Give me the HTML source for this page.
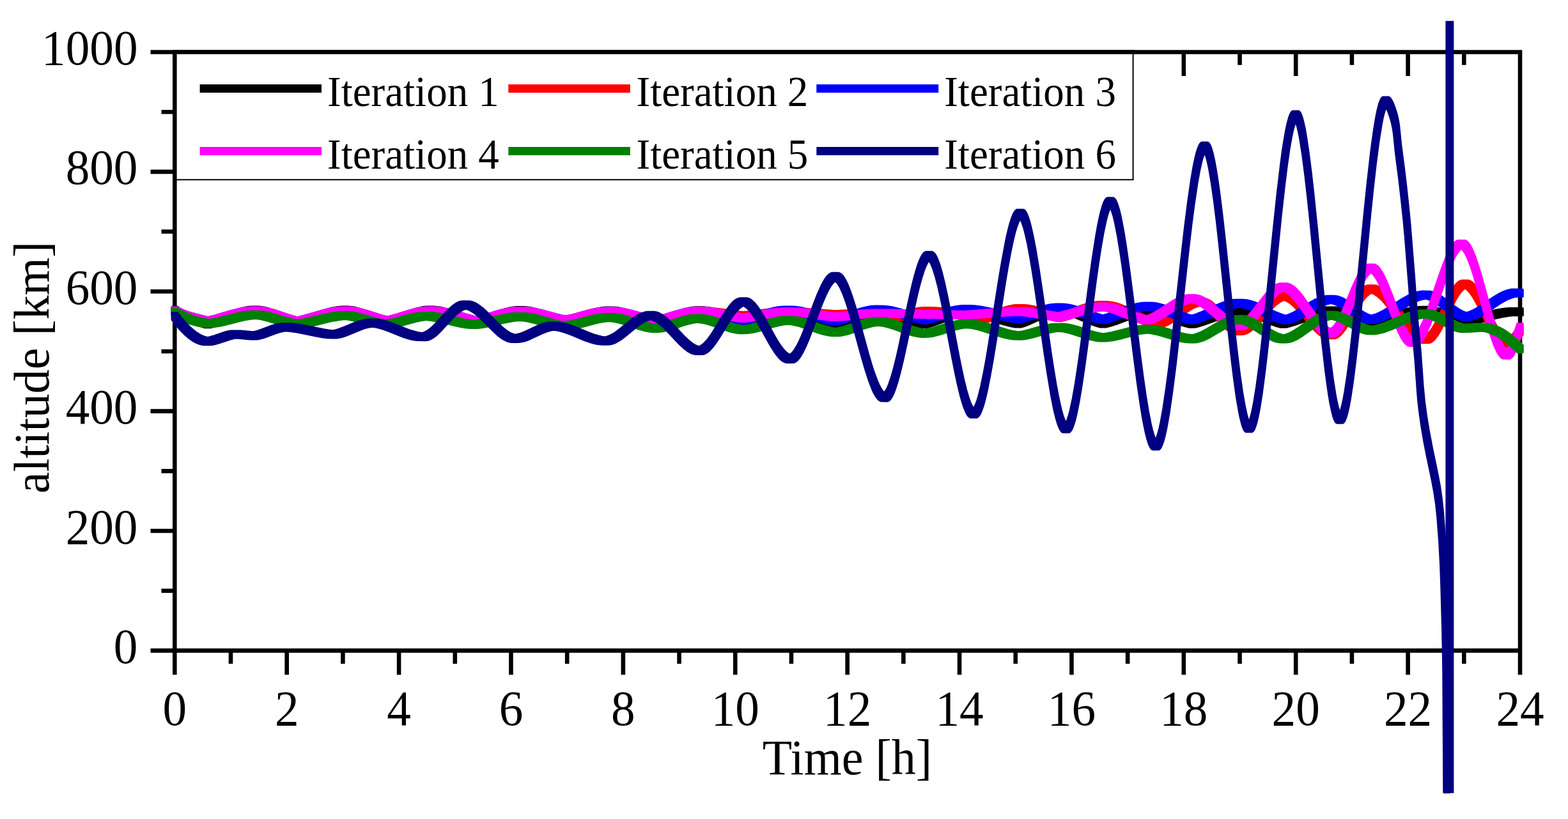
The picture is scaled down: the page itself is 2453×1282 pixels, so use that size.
<!DOCTYPE html>
<html><head><meta charset="utf-8"><title>altitude vs time</title>
<style>html,body{margin:0;padding:0;background:#fff;}svg{display:block;}</style>
</head><body>
<svg width="2453" height="1282" viewBox="0 0 2453 1282"><rect width="2453" height="1282" fill="#fff"/><path d="M273.30,78.20 V1021.70 M2378.00,78.20 V1021.70 M270.00,1018.40 H2381.30 M270.00,81.50 H2381.30 M235.50,1018.40 H273.30 M252.50,924.71 H273.30 M235.50,831.02 H273.30 M252.50,737.33 H273.30 M235.50,643.64 H273.30 M252.50,549.95 H273.30 M235.50,456.26 H273.30 M252.50,362.57 H273.30 M235.50,268.88 H273.30 M252.50,175.19 H273.30 M235.50,81.50 H273.30 M273.30,1018.40 V1056.30 M361.00,1018.40 V1039.00 M448.69,1018.40 V1056.30 M536.39,1018.40 V1039.00 M624.08,1018.40 V1056.30 M711.78,1018.40 V1039.00 M799.47,1018.40 V1056.30 M887.17,1018.40 V1039.00 M974.87,1018.40 V1056.30 M1062.56,1018.40 V1039.00 M1150.26,1018.40 V1056.30 M1237.95,1018.40 V1039.00 M1325.65,1018.40 V1056.30 M1413.35,1018.40 V1039.00 M1501.04,1018.40 V1056.30 M1588.74,1018.40 V1039.00 M1676.43,1018.40 V1056.30 M1764.13,1018.40 V1039.00 M1851.82,1018.40 V1056.30 M1939.52,1018.40 V1039.00 M2027.22,1018.40 V1056.30 M2114.91,1018.40 V1039.00 M2202.61,1018.40 V1056.30 M2290.30,1018.40 V1039.00 M2378.00,1018.40 V1056.30 M273.30,81.50 V119.00 M361.00,81.50 V101.70 M448.69,81.50 V119.00 M536.39,81.50 V101.70 M624.08,81.50 V119.00 M711.78,81.50 V101.70 M799.47,81.50 V119.00 M887.17,81.50 V101.70 M974.87,81.50 V119.00 M1062.56,81.50 V101.70 M1150.26,81.50 V119.00 M1237.95,81.50 V101.70 M1325.65,81.50 V119.00 M1413.35,81.50 V101.70 M1501.04,81.50 V119.00 M1588.74,81.50 V101.70 M1676.43,81.50 V119.00 M1764.13,81.50 V101.70 M1851.82,81.50 V119.00 M1939.52,81.50 V101.70 M2027.22,81.50 V119.00 M2114.91,81.50 V101.70 M2202.61,81.50 V119.00 M2290.30,81.50 V101.70 M2378.00,81.50 V119.00" fill="none" stroke="#000" stroke-width="6.6" stroke-linecap="butt"/><path d="M269.1,480.3 L277.6,480.3 L281.6,483.0 L286.6,485.9 L291.6,488.6 L297.3,491.2 L308.3,495.3 L325.3,500.5 L330.6,499.1 L336.6,497.1 L362.3,487.3 L373.3,483.6 L379.3,482.1 L384.3,481.1 L390.1,480.3 L395.1,480.1 L404.8,480.1 L408.8,480.4 L413.8,481.2 L419.8,482.7 L429.6,486.1 L453.6,496.4 L459.6,498.7 L464.6,500.4 L469.1,499.2 L476.1,497.0 L502.1,487.3 L513.0,483.8 L519.0,482.2 L524.8,481.1 L530.0,480.4 L535.0,480.1 L545.3,480.1 L549.3,480.4 L554.5,481.1 L560.5,482.6 L565.3,484.1 L570.5,486.0 L595.3,496.5 L601.3,498.8 L606.0,500.3 L609.8,499.2 L615.8,497.1 L639.3,487.3 L649.3,483.6 L654.3,482.2 L659.3,481.1 L664.3,480.3 L669.0,480.1 L678.8,480.1 L683.5,480.4 L689.5,481.3 L695.5,482.7 L706.3,486.0 L733.0,496.4 L739.8,498.7 L745.5,500.4 L750.3,499.0 L756.3,496.9 L779.0,487.7 L789.0,484.1 L794.8,482.5 L799.8,481.4 L804.8,480.7 L808.8,480.5 L819.3,480.5 L823.3,480.7 L829.3,481.5 L836.0,483.0 L841.3,484.5 L847.0,486.3 L873.3,496.2 L880.3,498.6 L885.0,499.9 L890.5,498.3 L896.5,496.2 L922.3,486.4 L928.3,484.4 L934.3,482.9 L940.3,481.7 L946.3,481.1 L958.5,481.0 L963.5,481.3 L967.5,481.8 L972.5,482.7 L982.3,485.3 L991.3,488.4 L1014.0,496.9 L1020.8,499.1 L1025.5,500.4 L1036.0,497.0 L1059.0,487.8 L1068.8,484.4 L1074.8,482.7 L1079.8,481.7 L1084.8,481.0 L1088.8,480.8 L1099.3,480.8 L1103.3,481.0 L1109.3,481.7 L1115.3,482.8 L1126.0,485.6 L1151.3,493.7 L1158.0,495.6 L1162.3,496.6 L1173.8,493.7 L1200.5,485.9 L1206.8,484.3 L1212.8,483.1 L1219.8,482.0 L1225.8,481.6 L1238.3,481.5 L1243.3,481.8 L1247.3,482.3 L1252.3,483.1 L1262.3,485.6 L1272.0,488.7 L1294.3,496.6 L1301.3,498.7 L1306.0,500.0 L1316.8,496.7 L1342.5,487.6 L1348.5,485.8 L1353.8,484.5 L1359.8,483.3 L1365.8,482.6 L1369.8,482.5 L1382.0,482.6 L1386.3,483.0 L1391.3,483.8 L1396.3,484.8 L1402.0,486.3 L1412.0,489.4 L1435.0,497.4 L1445.8,500.6 L1455.8,497.4 L1477.8,489.0 L1487.8,485.7 L1493.5,484.2 L1498.5,483.3 L1503.5,482.7 L1507.8,482.5 L1517.3,482.5 L1523.0,482.8 L1529.3,483.5 L1536.3,484.7 L1543.0,486.3 L1550.3,488.2 L1581.0,497.5 L1588.0,499.2 L1592.3,500.1 L1596.8,498.6 L1602.5,496.3 L1624.3,486.4 L1633.3,482.8 L1638.3,481.2 L1642.5,480.1 L1647.3,479.3 L1651.3,479.0 L1661.8,479.0 L1665.8,479.3 L1671.8,480.2 L1677.8,481.6 L1683.8,483.5 L1689.8,485.8 L1715.8,496.7 L1721.5,498.8 L1725.8,500.0 L1731.0,498.6 L1737.0,496.6 L1760.0,488.0 L1770.0,484.7 L1775.8,483.1 L1780.8,482.1 L1785.8,481.4 L1790.5,481.1 L1801.0,481.1 L1805.0,481.3 L1811.0,482.1 L1817.0,483.4 L1822.0,484.8 L1828.0,486.8 L1854.0,496.8 L1860.0,498.8 L1865.0,500.2 L1876.3,496.9 L1900.3,488.2 L1911.0,484.8 L1917.0,483.2 L1922.8,482.1 L1927.8,481.4 L1932.8,481.0 L1944.0,481.0 L1948.3,481.2 L1954.3,482.1 L1960.3,483.4 L1965.3,484.8 L1971.3,486.8 L1996.3,496.4 L2002.3,498.5 L2008.0,500.3 L2019.5,496.8 L2043.5,488.3 L2054.3,484.8 L2060.3,483.3 L2065.3,482.2 L2070.3,481.5 L2075.1,481.1 L2086.8,481.0 L2090.6,481.1 L2095.6,481.7 L2101.6,482.9 L2111.6,485.8 L2135.1,494.4 L2145.3,497.6 L2150.6,496.5 L2158.6,494.6 L2186.3,486.8 L2197.3,484.0 L2209.3,481.7 L2215.3,480.9 L2220.3,480.5 L2225.3,480.3 L2236.8,480.3 L2241.8,480.8 L2247.6,481.9 L2252.6,483.2 L2258.6,485.2 L2281.3,494.1 L2290.8,497.2 L2303.8,494.4 L2333.8,486.8 L2340.8,485.3 L2347.8,484.0 L2354.8,483.1 L2361.8,482.6 L2375.3,482.5 L2382.3,482.7 L2382.3,493.7 L2369.3,493.6 L2363.3,494.1 L2356.3,495.0 L2349.3,496.3 L2341.3,498.0 L2313.3,505.2 L2302.1,507.7 L2294.3,509.1 L2285.8,509.1 L2280.8,507.8 L2274.8,505.8 L2253.1,497.3 L2245.1,494.6 L2240.3,493.2 L2236.1,492.3 L2231.3,491.6 L2228.8,491.5 L2223.8,491.9 L2217.8,492.7 L2205.8,495.0 L2194.1,498.0 L2168.1,505.3 L2155.1,508.4 L2149.1,509.5 L2140.6,509.5 L2134.6,508.0 L2128.6,506.1 L2107.1,498.2 L2098.8,495.5 L2090.1,493.3 L2086.1,492.6 L2082.1,492.2 L2077.6,492.6 L2072.8,493.4 L2067.8,494.5 L2061.8,496.1 L2051.8,499.3 L2028.0,507.8 L2017.0,511.1 L2012.3,512.3 L2003.5,512.3 L1997.5,510.7 L1990.5,508.4 L1966.5,499.2 L1956.8,495.8 L1947.5,493.4 L1942.8,492.6 L1938.8,492.2 L1934.3,492.6 L1929.3,493.4 L1924.3,494.5 L1918.5,496.1 L1908.5,499.3 L1885.0,507.8 L1873.8,511.2 L1869.0,512.3 L1860.5,512.3 L1854.5,510.7 L1847.5,508.5 L1823.5,499.3 L1813.8,495.9 L1804.5,493.5 L1799.8,492.7 L1795.8,492.3 L1791.3,492.8 L1787.3,493.5 L1782.3,494.6 L1777.3,496.0 L1768.3,499.1 L1745.8,507.5 L1734.8,510.9 L1729.8,512.1 L1721.3,512.1 L1715.0,510.4 L1707.3,507.7 L1683.3,497.6 L1674.3,494.2 L1665.3,491.6 L1661.3,490.8 L1656.8,490.2 L1653.0,490.7 L1649.0,491.6 L1640.8,494.1 L1632.0,497.7 L1610.0,507.7 L1603.3,510.3 L1597.3,512.1 L1588.5,512.1 L1581.8,510.8 L1569.8,507.7 L1544.8,500.1 L1533.8,497.1 L1522.8,494.8 L1517.8,494.1 L1512.5,493.6 L1508.3,494.1 L1504.3,494.7 L1499.3,495.9 L1494.3,497.3 L1485.3,500.4 L1464.3,508.4 L1458.3,510.4 L1453.3,511.9 L1450.3,512.6 L1441.8,512.6 L1435.5,511.1 L1427.8,508.8 L1402.8,500.2 L1392.8,497.1 L1382.8,494.8 L1374.3,493.7 L1370.3,494.0 L1366.0,494.7 L1361.3,495.7 L1356.0,497.1 L1346.3,500.2 L1324.3,508.1 L1314.0,511.1 L1310.3,512.0 L1301.8,512.0 L1295.5,510.5 L1287.8,508.2 L1262.8,499.5 L1252.8,496.3 L1243.5,494.1 L1234.8,492.8 L1232.8,492.6 L1226.3,493.3 L1221.3,494.1 L1215.3,495.3 L1205.0,498.0 L1180.3,505.3 L1169.3,507.9 L1166.3,508.5 L1157.8,508.5 L1151.8,507.2 L1144.8,505.3 L1120.8,497.6 L1111.8,495.0 L1102.8,493.0 L1094.3,492.0 L1090.3,492.4 L1085.3,493.3 L1080.5,494.5 L1075.5,496.0 L1066.5,499.2 L1044.8,507.9 L1038.8,510.0 L1033.8,511.5 L1029.8,512.5 L1021.3,512.5 L1014.5,510.8 L1007.5,508.6 L982.5,499.3 L972.8,496.0 L967.8,494.6 L962.8,493.5 L958.0,492.6 L953.5,492.2 L949.5,492.6 L944.8,493.4 L939.8,494.6 L934.8,496.1 L925.8,499.2 L904.0,507.6 L893.3,511.0 L889.3,512.0 L880.8,512.0 L874.5,510.4 L866.8,507.9 L842.5,498.8 L832.8,495.5 L827.8,494.0 L822.8,492.9 L817.8,492.1 L814.0,491.7 L809.5,492.2 L805.3,493.0 L800.5,494.2 L795.5,495.8 L786.5,499.1 L765.5,507.6 L754.8,511.2 L749.8,512.5 L741.3,512.5 L734.5,510.7 L727.5,508.5 L701.8,498.5 L692.0,495.1 L687.0,493.7 L682.0,492.5 L678.0,491.8 L673.5,491.3 L669.5,491.8 L664.8,492.7 L655.8,495.3 L646.8,498.7 L625.3,507.7 L615.3,511.2 L610.3,512.5 L601.8,512.5 L595.8,510.8 L588.8,508.3 L565.8,498.5 L556.8,495.1 L552.0,493.6 L547.8,492.5 L543.8,491.7 L539.8,491.3 L535.3,491.8 L530.3,492.6 L525.3,493.7 L519.5,495.4 L509.6,498.7 L485.6,507.6 L474.6,511.1 L468.6,512.5 L460.1,512.5 L454.1,510.8 L447.1,508.2 L425.1,498.7 L416.1,495.2 L411.3,493.7 L407.3,492.6 L403.3,491.8 L399.3,491.3 L394.8,491.8 L389.8,492.6 L384.8,493.8 L379.8,495.2 L369.8,498.7 L346.1,507.7 L340.1,509.8 L334.3,511.5 L329.3,512.7 L320.6,512.7 L301.8,507.0 L295.8,504.9 L289.8,502.6 L284.1,500.0 L279.1,497.5 L274.1,494.6 L269.1,491.3 Z" fill="#000000" stroke="#000000" stroke-width="3.0" stroke-linejoin="round"/><path d="M269.1,481.3 L277.6,481.3 L286.6,485.6 L296.6,489.2 L307.3,492.3 L325.3,496.6 L335.8,494.1 L361.3,486.7 L372.6,483.9 L378.3,482.7 L384.3,481.8 L390.3,481.3 L395.3,481.1 L404.8,481.1 L408.8,481.3 L413.8,481.9 L419.8,483.1 L430.6,486.0 L453.6,493.7 L464.6,496.9 L470.1,495.7 L477.1,493.9 L505.8,485.7 L518.0,482.9 L525.0,481.8 L531.8,481.2 L544.5,481.1 L549.3,481.3 L557.5,482.4 L566.5,484.4 L575.3,486.9 L596.3,493.6 L606.0,496.3 L615.8,493.7 L638.5,486.6 L648.5,483.8 L654.3,482.5 L659.3,481.7 L664.3,481.2 L669.0,481.0 L678.8,481.0 L683.5,481.2 L689.5,481.9 L696.3,483.1 L707.3,485.7 L733.8,493.4 L745.5,496.4 L755.3,493.9 L779.0,486.8 L789.0,484.2 L794.8,483.0 L799.8,482.2 L804.8,481.7 L809.8,481.5 L819.3,481.5 L824.0,481.7 L830.3,482.3 L836.3,483.3 L847.3,485.7 L873.3,492.6 L885.0,495.2 L896.5,492.6 L921.5,485.8 L928.3,484.2 L934.0,483.1 L940.3,482.3 L946.3,481.9 L958.5,481.8 L963.5,482.0 L972.5,483.1 L982.3,485.0 L991.3,487.3 L1014.0,493.7 L1025.5,496.4 L1035.3,493.9 L1058.8,486.9 L1068.8,484.2 L1079.0,482.3 L1083.8,481.8 L1088.8,481.5 L1103.3,481.6 L1115.3,482.4 L1126.3,483.7 L1151.3,487.3 L1162.3,488.6 L1173.8,487.5 L1199.8,484.4 L1210.8,483.3 L1223.5,482.6 L1238.0,482.5 L1248.3,482.7 L1260.0,483.3 L1306.5,486.8 L1353.8,484.3 L1365.8,484.0 L1380.0,484.0 L1384.3,484.4 L1389.0,485.2 L1406.0,489.2 L1412.5,487.8 L1427.8,483.9 L1436.8,482.2 L1443.8,481.5 L1458.3,481.6 L1470.3,482.2 L1483.3,483.7 L1496.3,485.7 L1525.3,490.6 L1538.5,492.4 L1547.8,489.6 L1569.5,481.8 L1578.5,479.2 L1583.8,478.1 L1588.5,477.6 L1601.3,477.5 L1605.3,477.7 L1610.0,478.2 L1619.0,480.0 L1628.0,482.4 L1648.0,488.4 L1656.3,490.5 L1667.5,487.1 L1693.3,477.7 L1699.3,475.9 L1704.3,474.5 L1710.3,473.3 L1716.3,472.5 L1720.3,472.3 L1730.5,472.3 L1735.8,472.7 L1740.8,473.5 L1746.5,474.8 L1752.5,476.7 L1763.5,481.1 L1785.3,491.2 L1793.5,494.8 L1802.5,498.1 L1811.0,500.3 L1813.8,499.4 L1816.8,498.2 L1823.8,494.4 L1830.8,489.8 L1849.5,476.4 L1854.8,473.1 L1859.8,470.5 L1864.8,468.5 L1869.8,467.3 L1872.8,467.0 L1882.3,467.0 L1885.3,467.3 L1889.3,468.7 L1892.3,470.3 L1896.3,473.1 L1900.3,476.6 L1904.3,480.5 L1919.3,496.9 L1926.3,503.8 L1930.0,506.9 L1933.3,509.2 L1936.3,510.8 L1939.0,511.8 L1942.5,510.5 L1945.8,508.8 L1949.8,505.9 L1953.8,502.5 L1957.8,498.6 L1961.8,494.3 L1975.5,478.6 L1980.8,472.8 L1986.8,467.0 L1991.5,463.2 L1993.8,461.7 L1996.5,460.2 L2000.8,458.6 L2003.8,458.1 L2013.3,458.1 L2015.3,458.2 L2017.3,458.6 L2021.3,460.1 L2025.3,462.5 L2030.0,466.2 L2034.0,470.0 L2039.0,475.3 L2044.0,481.2 L2057.8,498.0 L2065.8,506.9 L2069.8,510.7 L2073.8,513.9 L2077.8,516.4 L2081.8,518.0 L2083.1,517.5 L2085.1,516.4 L2088.1,513.9 L2091.1,510.8 L2095.1,505.8 L2098.1,501.5 L2102.1,495.2 L2114.8,473.5 L2119.6,465.8 L2124.6,458.6 L2128.8,453.5 L2131.6,450.9 L2133.6,449.3 L2135.6,448.1 L2137.6,447.3 L2140.6,446.8 L2149.1,446.8 L2151.1,446.9 L2153.1,447.3 L2155.1,447.9 L2158.1,449.2 L2160.8,450.9 L2163.1,452.4 L2166.1,454.9 L2168.8,457.5 L2174.1,463.0 L2179.8,470.0 L2201.8,499.7 L2206.8,506.1 L2210.8,510.7 L2215.8,515.9 L2220.8,520.2 L2224.8,522.9 L2226.8,523.9 L2229.6,525.0 L2230.3,524.7 L2232.3,523.4 L2234.1,521.9 L2236.1,519.9 L2239.3,515.7 L2243.1,509.8 L2246.1,504.5 L2250.1,496.7 L2261.8,472.1 L2266.8,462.1 L2271.8,453.2 L2275.8,447.3 L2278.6,444.1 L2280.6,442.1 L2282.6,440.6 L2284.6,439.6 L2285.8,439.2 L2287.6,439.0 L2296.1,439.0 L2298.1,439.3 L2300.1,440.0 L2302.1,441.2 L2303.8,442.6 L2305.8,444.5 L2307.8,446.8 L2311.8,452.4 L2315.8,459.0 L2319.8,466.5 L2335.6,499.1 L2342.3,512.1 L2345.6,517.6 L2348.6,522.1 L2351.6,526.0 L2354.6,529.0 L2356.3,530.4 L2357.8,531.3 L2358.8,530.8 L2360.8,529.3 L2363.8,526.3 L2366.6,523.0 L2373.8,512.5 L2382.3,512.5 L2382.3,523.5 L2377.3,530.9 L2373.3,536.2 L2369.3,540.3 L2366.1,542.5 L2364.3,543.2 L2362.3,543.5 L2352.8,543.4 L2349.8,542.5 L2346.8,540.6 L2343.8,537.8 L2340.8,534.2 L2337.8,529.8 L2334.1,523.6 L2327.1,510.1 L2312.3,479.4 L2308.3,471.8 L2304.6,465.3 L2301.3,460.4 L2297.6,455.8 L2294.6,452.9 L2292.6,451.5 L2291.8,451.2 L2289.1,453.1 L2286.1,456.2 L2282.3,461.1 L2279.1,466.3 L2276.1,471.7 L2272.3,479.0 L2256.6,511.7 L2252.6,519.1 L2248.6,525.6 L2244.8,530.6 L2241.6,533.8 L2239.8,535.1 L2237.8,536.2 L2236.6,536.6 L2234.8,536.8 L2225.3,536.8 L2221.3,536.0 L2218.3,534.9 L2215.3,533.3 L2212.3,531.2 L2209.3,528.8 L2203.3,522.8 L2197.3,515.8 L2190.3,506.8 L2173.3,483.6 L2168.3,477.3 L2163.6,471.8 L2158.6,466.8 L2153.6,462.7 L2149.6,460.2 L2147.6,459.3 L2145.3,458.6 L2142.1,460.3 L2139.1,462.8 L2135.3,466.8 L2132.1,470.9 L2129.1,475.3 L2125.3,481.2 L2108.6,509.4 L2104.6,515.4 L2100.6,520.7 L2096.6,524.9 L2093.6,527.4 L2091.6,528.5 L2089.8,529.3 L2088.6,529.6 L2086.6,529.8 L2077.3,529.8 L2074.3,529.3 L2072.1,528.6 L2069.3,527.4 L2064.3,524.1 L2059.3,519.8 L2053.3,513.6 L2047.5,506.9 L2032.5,488.6 L2028.5,484.1 L2024.5,480.0 L2020.5,476.3 L2016.5,473.3 L2012.8,471.1 L2009.0,469.7 L2006.0,470.7 L2002.3,472.7 L1998.3,475.5 L1994.0,479.1 L1986.3,487.0 L1968.3,507.5 L1963.3,512.6 L1959.3,516.1 L1955.3,519.1 L1951.0,521.5 L1947.3,522.9 L1945.3,523.3 L1943.3,523.4 L1934.5,523.4 L1931.8,523.1 L1927.8,521.8 L1923.5,519.4 L1918.8,515.7 L1913.8,511.0 L1896.8,492.5 L1890.5,486.4 L1886.8,483.3 L1883.8,481.3 L1880.5,479.6 L1877.3,478.5 L1874.0,479.3 L1870.3,480.6 L1866.3,482.5 L1862.3,484.7 L1854.3,490.0 L1837.3,502.2 L1829.3,507.1 L1825.3,509.2 L1822.3,510.4 L1819.3,511.4 L1816.3,512.1 L1806.8,512.0 L1800.8,510.9 L1794.0,509.1 L1788.0,507.0 L1781.8,504.4 L1756.8,492.9 L1746.0,488.5 L1740.3,486.5 L1735.0,485.1 L1730.0,484.0 L1725.3,483.5 L1720.8,484.0 L1716.8,484.6 L1711.8,485.8 L1706.8,487.2 L1697.8,490.1 L1673.8,498.9 L1666.8,501.0 L1660.8,502.5 L1652.3,502.5 L1649.3,501.9 L1639.5,499.4 L1620.5,493.7 L1612.5,491.5 L1603.8,489.6 L1596.3,488.7 L1589.3,489.7 L1582.0,491.5 L1574.3,494.0 L1555.0,501.0 L1549.3,502.8 L1544.3,504.1 L1535.5,504.1 L1529.8,503.4 L1515.8,501.4 L1487.8,496.7 L1475.8,494.8 L1462.8,493.3 L1451.3,492.6 L1445.3,493.2 L1439.3,494.3 L1419.3,499.2 L1412.0,500.7 L1410.3,501.0 L1401.8,501.0 L1395.8,499.9 L1379.8,496.1 L1375.8,495.4 L1371.8,495.1 L1354.3,495.7 L1314.3,497.8 L1301.8,498.0 L1287.8,497.1 L1252.8,494.4 L1233.5,493.5 L1224.3,493.9 L1214.3,494.7 L1181.3,498.6 L1170.3,499.7 L1166.3,500.0 L1157.8,500.0 L1144.8,498.6 L1111.8,493.9 L1102.8,493.0 L1094.8,492.6 L1086.3,493.5 L1076.3,495.5 L1066.5,498.1 L1042.8,505.2 L1035.8,507.0 L1029.8,508.2 L1021.3,508.2 L1016.5,507.3 L1005.5,504.7 L982.8,498.3 L973.8,496.0 L964.0,494.1 L955.0,493.0 L952.8,493.0 L946.8,493.5 L941.8,494.3 L935.8,495.4 L926.0,497.8 L903.3,504.0 L892.3,506.5 L889.3,507.0 L880.8,507.0 L874.8,505.9 L867.5,504.3 L842.8,497.7 L832.8,495.3 L822.8,493.5 L814.0,492.6 L805.3,493.6 L795.5,495.6 L786.5,498.1 L764.5,504.7 L753.8,507.4 L749.8,508.2 L741.3,508.2 L734.5,506.8 L727.5,505.1 L702.8,497.8 L692.8,495.2 L682.8,493.2 L673.5,492.1 L664.8,493.2 L655.0,495.3 L646.0,497.9 L625.0,504.5 L614.3,507.4 L610.3,508.2 L601.8,508.2 L595.8,506.9 L589.0,505.0 L566.8,497.9 L557.8,495.3 L548.8,493.3 L544.0,492.6 L540.0,492.2 L535.5,492.6 L530.5,493.2 L519.5,495.4 L509.3,498.0 L484.6,505.2 L472.6,508.0 L468.6,508.8 L460.1,508.8 L454.1,507.4 L448.1,505.7 L425.1,497.9 L416.3,495.3 L407.3,493.2 L399.3,492.2 L394.8,492.6 L389.8,493.2 L379.1,495.4 L368.8,498.0 L345.1,504.9 L333.3,507.7 L329.3,508.5 L320.6,508.5 L299.8,503.5 L289.1,500.5 L278.8,496.9 L274.1,494.8 L269.1,492.3 Z" fill="#ff0000" stroke="#ff0000" stroke-width="3.0" stroke-linejoin="round"/><path d="M269.1,481.3 L277.6,481.3 L286.6,485.6 L296.6,489.2 L307.3,492.3 L325.3,496.6 L335.8,494.1 L361.3,486.7 L372.6,483.9 L378.3,482.7 L384.3,481.8 L390.3,481.3 L395.3,481.1 L404.8,481.1 L408.8,481.3 L413.8,481.9 L419.8,483.1 L430.6,486.0 L453.6,493.7 L464.6,496.9 L470.1,495.7 L477.1,493.9 L505.8,485.7 L518.0,482.9 L525.0,481.8 L531.8,481.2 L544.5,481.1 L549.3,481.3 L557.5,482.4 L566.5,484.4 L575.3,486.9 L596.3,493.6 L606.0,496.3 L615.8,493.7 L638.5,486.6 L648.5,483.8 L654.3,482.5 L659.3,481.7 L664.3,481.2 L669.0,481.0 L678.8,481.0 L683.5,481.2 L689.5,481.9 L696.3,483.1 L707.3,485.7 L733.8,493.4 L745.5,496.4 L755.3,493.9 L779.0,486.8 L789.0,484.2 L794.8,483.0 L799.8,482.2 L804.8,481.7 L809.8,481.5 L819.3,481.5 L824.0,481.7 L830.3,482.3 L836.3,483.3 L847.3,485.7 L873.3,492.6 L885.0,495.2 L896.5,492.6 L921.5,485.8 L928.3,484.2 L934.0,483.1 L940.3,482.3 L946.3,481.9 L958.5,481.8 L963.5,482.0 L972.5,483.1 L982.3,485.0 L991.3,487.3 L1014.0,493.7 L1025.5,496.4 L1036.3,493.6 L1057.0,487.4 L1066.0,484.9 L1075.8,482.8 L1083.8,481.8 L1088.8,481.5 L1101.3,481.6 L1107.3,482.0 L1113.3,482.9 L1125.3,485.5 L1151.0,492.6 L1161.8,495.2 L1166.8,494.1 L1173.5,492.3 L1199.8,484.6 L1210.8,482.0 L1217.5,480.8 L1223.5,480.2 L1227.8,480.0 L1238.3,480.0 L1243.3,480.3 L1248.3,480.8 L1254.3,481.8 L1260.0,483.1 L1270.3,486.0 L1295.3,493.8 L1305.8,496.6 L1316.5,493.4 L1338.3,485.6 L1347.3,482.8 L1357.0,480.4 L1362.0,479.6 L1366.0,479.2 L1370.0,479.1 L1382.5,479.2 L1388.5,479.7 L1395.3,480.8 L1407.3,483.6 L1434.5,491.5 L1446.0,494.3 L1456.0,491.5 L1477.8,484.3 L1487.8,481.3 L1492.8,480.2 L1497.8,479.3 L1502.8,478.7 L1506.8,478.5 L1517.3,478.5 L1523.0,478.7 L1530.0,479.4 L1537.0,480.4 L1549.3,482.9 L1579.3,490.2 L1592.3,492.8 L1601.8,490.0 L1623.5,482.0 L1633.3,478.9 L1638.5,477.6 L1643.3,476.7 L1648.3,476.2 L1652.3,476.0 L1661.8,476.0 L1665.8,476.2 L1671.8,477.0 L1677.8,478.2 L1688.8,481.4 L1713.8,490.3 L1725.3,493.8 L1730.3,492.3 L1737.0,490.0 L1763.0,480.0 L1773.8,476.6 L1779.8,475.2 L1785.8,474.3 L1790.5,474.0 L1800.3,474.0 L1805.0,474.2 L1809.3,474.8 L1814.3,475.9 L1820.0,477.5 L1829.3,480.8 L1853.0,490.4 L1859.0,492.5 L1864.5,494.0 L1870.5,492.2 L1877.3,489.5 L1905.0,476.8 L1911.0,474.3 L1917.0,472.2 L1923.0,470.6 L1929.0,469.6 L1933.8,469.2 L1943.3,469.2 L1947.3,469.4 L1952.3,470.1 L1957.3,471.4 L1962.3,473.0 L1972.3,477.2 L1990.3,486.0 L1997.3,489.2 L2005.0,492.2 L2011.5,494.1 L2017.8,491.9 L2024.8,488.5 L2031.5,484.6 L2051.3,472.4 L2057.3,469.1 L2062.3,466.8 L2068.1,464.7 L2073.3,463.6 L2077.3,463.2 L2086.6,463.2 L2089.8,463.4 L2093.6,464.2 L2097.6,465.6 L2101.6,467.4 L2105.6,469.7 L2109.6,472.2 L2126.1,484.0 L2132.3,488.1 L2136.1,490.2 L2139.3,491.8 L2143.1,493.3 L2145.3,493.9 L2149.6,492.8 L2153.6,491.4 L2158.6,489.2 L2163.6,486.6 L2172.6,481.4 L2193.3,468.1 L2203.3,462.5 L2208.3,460.2 L2212.3,458.7 L2216.3,457.4 L2220.3,456.6 L2225.3,456.1 L2236.8,456.2 L2240.8,456.9 L2245.8,458.7 L2250.8,461.2 L2256.8,465.1 L2261.8,468.8 L2274.8,478.9 L2281.8,483.8 L2287.8,487.2 L2290.8,488.5 L2293.8,489.6 L2297.3,488.6 L2301.1,487.1 L2305.1,485.3 L2309.3,483.1 L2318.1,477.7 L2333.8,467.0 L2340.1,463.0 L2346.8,459.1 L2352.8,456.3 L2358.8,454.2 L2361.8,453.6 L2364.8,453.1 L2376.3,453.0 L2382.3,453.2 L2382.3,464.2 L2373.1,464.2 L2371.1,464.4 L2365.3,465.8 L2359.6,468.0 L2354.3,470.6 L2348.3,474.1 L2325.6,489.3 L2316.6,494.8 L2311.6,497.3 L2306.8,499.2 L2301.8,500.7 L2297.8,501.4 L2289.3,501.4 L2288.3,501.3 L2284.1,500.2 L2279.3,498.2 L2275.1,495.8 L2270.1,492.6 L2251.3,478.3 L2247.1,475.3 L2243.1,472.7 L2238.3,470.1 L2234.1,468.4 L2230.1,467.4 L2227.8,467.8 L2223.8,468.7 L2218.8,470.4 L2213.8,472.5 L2209.1,474.9 L2199.8,480.3 L2178.1,494.2 L2172.1,497.6 L2167.1,500.2 L2162.1,502.4 L2157.8,503.8 L2153.1,505.0 L2149.1,505.6 L2140.6,505.6 L2138.6,505.3 L2134.6,504.3 L2129.8,502.4 L2125.6,500.1 L2120.8,497.2 L2103.1,484.6 L2096.1,480.1 L2092.1,477.9 L2089.1,476.6 L2085.1,475.2 L2082.1,474.5 L2078.8,475.2 L2075.6,476.0 L2071.8,477.4 L2067.8,479.1 L2058.8,483.9 L2040.0,495.6 L2032.0,500.1 L2028.0,502.1 L2024.0,503.8 L2020.3,505.0 L2016.3,506.0 L2007.5,506.0 L2002.8,505.0 L1997.5,503.5 L1992.5,501.7 L1986.8,499.3 L1965.5,489.0 L1956.5,485.1 L1951.8,483.3 L1946.8,481.8 L1942.8,481.0 L1938.8,480.4 L1934.3,481.0 L1930.3,481.9 L1925.5,483.2 L1921.3,484.7 L1911.5,488.7 L1892.8,497.5 L1884.8,501.0 L1876.8,503.9 L1869.0,506.0 L1860.5,506.0 L1853.5,504.4 L1848.5,502.8 L1842.5,500.6 L1822.5,492.5 L1813.5,489.1 L1804.5,486.6 L1799.8,485.7 L1795.8,485.2 L1791.3,485.7 L1787.3,486.4 L1782.3,487.6 L1777.3,489.0 L1767.5,492.4 L1743.5,501.7 L1736.5,504.0 L1729.8,505.8 L1721.3,505.8 L1717.0,504.8 L1706.3,501.6 L1684.3,493.7 L1675.3,490.8 L1670.3,489.4 L1665.3,488.3 L1661.3,487.7 L1656.8,487.2 L1653.0,487.6 L1649.0,488.2 L1640.0,490.4 L1631.0,493.4 L1609.3,501.3 L1603.0,503.2 L1597.3,504.7 L1588.8,504.7 L1583.8,503.9 L1571.5,501.4 L1545.8,495.0 L1534.8,492.6 L1522.8,490.5 L1512.5,489.6 L1504.3,490.6 L1499.3,491.6 L1494.3,492.9 L1485.3,495.6 L1464.5,502.5 L1453.5,505.6 L1450.5,506.2 L1442.0,506.2 L1435.3,504.8 L1428.3,503.1 L1403.5,495.9 L1393.5,493.2 L1383.5,491.2 L1378.8,490.6 L1374.3,490.2 L1369.5,490.7 L1365.5,491.4 L1356.5,493.6 L1346.8,496.6 L1323.0,505.0 L1316.3,507.0 L1310.3,508.5 L1301.8,508.5 L1297.8,507.7 L1286.5,504.7 L1262.8,497.3 L1252.8,494.4 L1242.5,492.2 L1237.8,491.6 L1233.0,491.1 L1224.3,492.1 L1214.3,494.0 L1204.3,496.7 L1179.3,504.0 L1172.3,505.8 L1166.3,507.0 L1157.8,507.0 L1153.8,506.3 L1142.8,503.7 L1121.8,497.8 L1112.5,495.4 L1102.8,493.6 L1094.0,492.6 L1085.5,493.6 L1076.3,495.5 L1066.5,498.1 L1042.8,505.2 L1035.8,507.0 L1029.8,508.2 L1021.3,508.2 L1016.5,507.3 L1005.5,504.7 L982.8,498.3 L973.8,496.0 L964.0,494.1 L955.0,493.0 L952.8,493.0 L946.8,493.5 L941.8,494.3 L935.8,495.4 L926.0,497.8 L903.3,504.0 L892.3,506.5 L889.3,507.0 L880.8,507.0 L874.8,505.9 L867.5,504.3 L842.8,497.7 L832.8,495.3 L822.8,493.5 L814.0,492.6 L805.3,493.6 L795.5,495.6 L786.5,498.1 L764.5,504.7 L753.8,507.4 L749.8,508.2 L741.3,508.2 L734.5,506.8 L727.5,505.1 L702.8,497.8 L692.8,495.2 L682.8,493.2 L673.5,492.1 L664.8,493.2 L655.0,495.3 L646.0,497.9 L625.0,504.5 L614.3,507.4 L610.3,508.2 L601.8,508.2 L595.8,506.9 L589.0,505.0 L566.8,497.9 L557.8,495.3 L548.8,493.3 L544.0,492.6 L540.0,492.2 L535.5,492.6 L530.5,493.2 L519.5,495.4 L509.3,498.0 L484.6,505.2 L472.6,508.0 L468.6,508.8 L460.1,508.8 L454.1,507.4 L448.1,505.7 L425.1,497.9 L416.3,495.3 L407.3,493.2 L399.3,492.2 L394.8,492.6 L389.8,493.2 L379.1,495.4 L368.8,498.0 L345.1,504.9 L333.3,507.7 L329.3,508.5 L320.6,508.5 L299.8,503.5 L289.1,500.5 L278.8,496.9 L274.1,494.8 L269.1,492.3 Z" fill="#0000ff" stroke="#0000ff" stroke-width="3.0" stroke-linejoin="round"/><path d="M269.1,481.3 L277.6,481.3 L286.6,485.6 L296.6,489.2 L307.3,492.3 L325.3,496.6 L335.8,494.1 L361.3,486.7 L372.6,483.9 L378.3,482.7 L384.3,481.8 L390.3,481.3 L395.3,481.1 L404.8,481.1 L408.8,481.3 L413.8,481.9 L419.8,483.1 L430.6,486.0 L453.6,493.7 L464.6,496.9 L470.1,495.7 L477.1,493.9 L505.8,485.7 L518.0,482.9 L525.0,481.8 L531.8,481.2 L544.5,481.1 L549.3,481.3 L557.5,482.4 L566.5,484.4 L575.3,486.9 L596.3,493.6 L606.0,496.3 L615.8,493.7 L638.5,486.6 L648.5,483.8 L654.3,482.5 L659.3,481.7 L664.3,481.2 L669.0,481.0 L678.8,481.0 L683.5,481.2 L689.5,481.9 L696.3,483.1 L707.3,485.7 L733.8,493.4 L745.5,496.4 L755.3,493.9 L779.0,486.8 L789.0,484.2 L794.8,483.0 L799.8,482.2 L804.8,481.7 L809.8,481.5 L819.3,481.5 L824.0,481.7 L830.3,482.3 L836.3,483.3 L847.3,485.7 L873.3,492.6 L885.0,495.2 L896.5,492.6 L921.5,485.8 L928.3,484.2 L934.0,483.1 L940.3,482.3 L946.3,481.9 L958.5,481.8 L963.5,482.0 L972.5,483.1 L982.3,485.0 L991.3,487.3 L1014.0,493.7 L1025.5,496.4 L1036.0,493.7 L1058.0,487.1 L1068.0,484.4 L1073.8,483.1 L1078.8,482.3 L1083.8,481.8 L1087.8,481.5 L1103.0,481.6 L1109.0,482.1 L1115.0,482.8 L1126.0,484.7 L1151.3,490.0 L1162.3,491.9 L1172.8,490.3 L1196.5,485.9 L1206.8,484.3 L1218.5,482.9 L1228.5,482.5 L1243.3,482.6 L1256.0,483.5 L1267.3,484.8 L1294.3,488.7 L1306.5,490.2 L1346.5,486.2 L1355.8,485.5 L1363.8,485.1 L1393.3,485.1 L1447.3,486.4 L1509.3,487.4 L1522.5,486.5 L1553.8,483.9 L1568.5,482.8 L1582.8,482.3 L1599.3,482.2 L1608.0,482.7 L1617.3,483.7 L1655.5,489.9 L1667.3,487.0 L1693.3,479.2 L1703.3,476.8 L1709.3,475.7 L1715.3,475.0 L1720.3,474.8 L1729.8,474.8 L1733.8,475.0 L1738.5,475.6 L1742.8,476.5 L1747.8,477.9 L1756.8,481.1 L1773.8,488.2 L1780.5,490.8 L1787.5,493.1 L1793.5,494.6 L1796.3,493.8 L1800.0,492.3 L1807.0,488.9 L1814.8,484.1 L1834.8,471.0 L1840.5,467.7 L1845.5,465.3 L1851.5,463.1 L1856.5,462.1 L1859.5,461.8 L1869.0,461.8 L1873.0,462.2 L1877.0,463.2 L1881.0,464.8 L1885.8,467.3 L1890.8,470.6 L1895.5,474.2 L1914.5,490.2 L1922.5,496.3 L1927.3,499.3 L1931.3,501.4 L1935.3,503.0 L1938.5,503.9 L1941.8,502.6 L1945.8,500.2 L1949.8,497.0 L1953.5,493.3 L1960.8,485.0 L1974.8,466.8 L1980.5,459.7 L1985.8,453.9 L1990.5,449.5 L1992.8,447.8 L1995.5,446.1 L1997.5,445.1 L1999.8,444.4 L2002.8,443.8 L2012.3,443.8 L2014.0,443.9 L2016.0,444.4 L2018.0,445.1 L2020.0,446.1 L2024.0,448.7 L2029.0,453.2 L2033.8,458.5 L2038.8,464.8 L2057.8,491.7 L2061.8,497.0 L2065.8,502.0 L2069.8,506.3 L2073.8,510.0 L2077.8,512.9 L2081.6,514.7 L2083.1,513.9 L2085.1,512.2 L2088.1,508.8 L2091.1,504.5 L2095.1,497.4 L2098.1,491.3 L2102.1,482.4 L2114.8,451.7 L2119.6,440.8 L2124.6,430.6 L2128.8,423.5 L2131.6,419.7 L2133.6,417.6 L2135.6,415.9 L2137.6,414.7 L2138.8,414.2 L2140.6,414.0 L2149.1,414.0 L2150.8,414.3 L2152.1,414.7 L2154.1,416.0 L2156.1,417.7 L2158.1,420.1 L2159.8,422.5 L2163.8,429.2 L2167.8,437.4 L2171.8,446.7 L2176.6,458.7 L2189.6,493.0 L2193.3,502.1 L2196.3,508.9 L2199.6,515.4 L2203.3,521.7 L2206.6,526.0 L2208.3,527.8 L2210.1,529.1 L2211.8,527.8 L2213.8,525.7 L2215.8,523.2 L2217.8,520.3 L2221.8,513.0 L2226.6,502.6 L2230.6,492.5 L2234.8,480.8 L2250.6,434.0 L2256.6,417.1 L2262.3,402.6 L2265.3,395.9 L2267.6,391.4 L2270.6,386.3 L2273.3,382.3 L2275.6,379.8 L2278.3,377.7 L2280.3,376.7 L2281.6,376.5 L2290.8,376.4 L2292.8,376.8 L2294.8,378.0 L2296.8,379.9 L2298.8,382.6 L2300.8,385.8 L2302.8,389.7 L2304.8,394.2 L2307.6,401.1 L2311.8,413.5 L2316.6,429.0 L2333.6,490.8 L2340.3,513.3 L2344.3,525.0 L2347.3,532.6 L2350.3,539.1 L2353.3,544.2 L2355.3,546.9 L2356.6,548.2 L2356.8,548.1 L2358.8,545.5 L2360.6,542.4 L2362.8,537.7 L2365.8,530.2 L2368.8,521.7 L2373.8,506.5 L2382.3,506.5 L2382.3,517.5 L2376.3,535.7 L2372.3,546.4 L2370.3,550.9 L2368.3,554.8 L2367.1,556.8 L2365.3,559.1 L2363.3,560.8 L2362.1,561.3 L2351.8,561.3 L2350.6,560.9 L2348.8,559.8 L2347.6,558.7 L2345.8,556.6 L2342.8,552.0 L2339.1,544.2 L2335.8,536.0 L2331.8,524.3 L2325.1,501.8 L2308.3,440.9 L2304.1,426.8 L2300.3,415.6 L2296.3,405.2 L2293.3,398.7 L2291.3,395.1 L2289.3,392.2 L2287.6,390.1 L2286.3,389.0 L2284.8,390.1 L2282.8,392.2 L2280.8,394.7 L2278.8,397.6 L2274.8,404.9 L2269.8,415.9 L2265.8,426.1 L2261.1,439.2 L2247.1,480.9 L2241.1,498.1 L2236.1,511.2 L2231.3,522.0 L2229.1,526.5 L2226.3,531.3 L2224.3,534.2 L2222.3,536.7 L2220.3,538.8 L2218.3,540.2 L2216.3,541.2 L2214.3,541.5 L2204.8,541.4 L2203.6,541.1 L2201.8,540.3 L2199.8,538.8 L2197.8,536.7 L2195.8,534.2 L2193.1,530.0 L2190.8,525.9 L2188.1,520.4 L2183.1,509.0 L2178.1,496.3 L2165.3,462.6 L2161.3,452.9 L2158.3,446.2 L2154.6,438.8 L2151.3,433.5 L2148.3,429.6 L2146.6,427.8 L2144.8,426.4 L2144.1,426.9 L2142.1,428.6 L2140.1,430.7 L2138.3,433.0 L2135.1,438.1 L2131.3,445.0 L2128.3,451.3 L2124.3,460.3 L2113.3,486.9 L2108.6,497.9 L2104.6,506.4 L2100.6,513.8 L2096.6,519.8 L2093.6,523.2 L2091.6,524.9 L2089.8,525.9 L2088.6,526.4 L2086.8,526.7 L2077.3,526.7 L2074.1,526.1 L2072.1,525.3 L2069.3,523.9 L2066.3,521.8 L2064.1,519.9 L2059.3,515.2 L2053.3,508.0 L2047.3,499.9 L2032.3,478.5 L2027.5,472.3 L2023.5,467.5 L2019.5,463.2 L2015.5,459.7 L2011.5,457.1 L2009.5,456.1 L2007.8,455.5 L2004.3,457.0 L2001.0,459.0 L1997.0,462.3 L1993.0,466.2 L1989.3,470.4 L1985.3,475.2 L1968.0,497.5 L1963.3,503.0 L1959.0,507.3 L1955.0,510.7 L1951.0,513.2 L1947.3,514.8 L1945.3,515.2 L1943.3,515.4 L1933.8,515.4 L1930.8,515.1 L1925.8,513.7 L1920.8,511.4 L1915.8,508.5 L1910.0,504.4 L1904.0,499.6 L1888.3,486.2 L1880.3,480.2 L1876.3,477.7 L1872.3,475.7 L1868.5,474.2 L1864.5,473.2 L1861.3,473.8 L1858.0,474.8 L1854.3,476.2 L1850.3,478.1 L1846.3,480.2 L1841.3,483.2 L1822.5,495.6 L1814.5,500.4 L1809.5,502.9 L1805.8,504.4 L1801.8,505.7 L1798.5,506.4 L1790.0,506.4 L1785.0,505.6 L1780.0,504.4 L1775.0,502.9 L1769.3,500.8 L1749.3,492.5 L1741.3,489.6 L1733.0,487.2 L1729.0,486.4 L1725.0,486.0 L1716.8,486.9 L1706.8,489.0 L1697.8,491.4 L1673.8,498.5 L1666.8,500.3 L1660.8,501.5 L1652.3,501.5 L1649.3,501.2 L1639.3,499.8 L1609.5,494.8 L1600.5,493.8 L1592.0,493.2 L1582.3,493.6 L1571.0,494.2 L1531.3,497.5 L1516.3,498.5 L1456.5,497.8 L1390.5,496.2 L1372.3,496.1 L1364.3,496.5 L1355.3,497.1 L1323.3,500.4 L1310.3,501.5 L1301.8,501.5 L1297.8,501.1 L1286.5,499.8 L1252.8,495.1 L1242.8,494.1 L1233.3,493.6 L1224.3,494.2 L1214.0,495.4 L1204.3,497.1 L1181.3,501.3 L1170.3,503.0 L1166.3,503.5 L1157.8,503.5 L1144.8,501.4 L1120.8,496.3 L1111.8,494.6 L1102.8,493.3 L1094.3,492.6 L1085.5,493.6 L1076.3,495.5 L1066.5,498.1 L1042.8,505.2 L1035.8,507.0 L1029.8,508.2 L1021.3,508.2 L1016.5,507.3 L1005.5,504.7 L982.8,498.3 L973.8,496.0 L964.0,494.1 L955.0,493.0 L952.8,493.0 L946.8,493.5 L941.8,494.3 L935.8,495.4 L926.0,497.8 L903.3,504.0 L892.3,506.5 L889.3,507.0 L880.8,507.0 L874.8,505.9 L867.5,504.3 L842.8,497.7 L832.8,495.3 L822.8,493.5 L814.0,492.6 L805.3,493.6 L795.5,495.6 L786.5,498.1 L764.5,504.7 L753.8,507.4 L749.8,508.2 L741.3,508.2 L734.5,506.8 L727.5,505.1 L702.8,497.8 L692.8,495.2 L682.8,493.2 L673.5,492.1 L664.8,493.2 L655.0,495.3 L646.0,497.9 L625.0,504.5 L614.3,507.4 L610.3,508.2 L601.8,508.2 L595.8,506.9 L589.0,505.0 L566.8,497.9 L557.8,495.3 L548.8,493.3 L544.0,492.6 L540.0,492.2 L535.5,492.6 L530.5,493.2 L519.5,495.4 L509.3,498.0 L484.6,505.2 L472.6,508.0 L468.6,508.8 L460.1,508.8 L454.1,507.4 L448.1,505.7 L425.1,497.9 L416.3,495.3 L407.3,493.2 L399.3,492.2 L394.8,492.6 L389.8,493.2 L379.1,495.4 L368.8,498.0 L345.1,504.9 L333.3,507.7 L329.3,508.5 L320.6,508.5 L299.8,503.5 L289.1,500.5 L278.8,496.9 L274.1,494.8 L269.1,492.3 Z" fill="#ff00ff" stroke="#ff00ff" stroke-width="3.0" stroke-linejoin="round"/><path d="M269.1,483.0 L277.6,483.0 L284.3,486.6 L290.6,489.6 L297.3,492.6 L303.3,494.8 L309.3,496.8 L315.3,498.4 L321.1,499.6 L326.6,500.4 L333.6,499.5 L341.6,497.9 L367.3,491.4 L376.6,489.3 L386.3,487.8 L394.3,487.3 L406.8,487.4 L411.8,487.9 L416.8,488.7 L426.8,491.1 L451.6,498.6 L458.6,500.2 L464.8,501.2 L472.1,500.3 L480.1,498.8 L507.1,492.4 L516.0,490.6 L525.0,489.2 L533.0,488.6 L547.3,488.6 L551.5,488.9 L556.5,489.7 L566.5,492.1 L591.3,499.4 L597.3,500.7 L603.0,501.6 L608.8,500.8 L615.8,499.4 L637.8,493.4 L645.8,491.5 L652.8,490.3 L659.8,489.6 L675.0,489.6 L680.3,490.0 L686.0,490.8 L697.3,493.0 L726.0,499.9 L734.0,501.4 L740.8,502.2 L747.5,501.4 L755.3,500.1 L783.0,493.7 L794.8,491.5 L800.8,490.8 L805.8,490.4 L820.3,490.3 L828.0,491.0 L836.3,492.5 L844.3,494.5 L869.0,501.6 L876.3,503.2 L883.0,504.2 L889.5,503.3 L896.8,501.9 L923.5,495.0 L934.3,492.7 L940.0,491.9 L945.0,491.4 L958.5,491.3 L962.5,491.5 L966.5,492.0 L975.5,493.8 L985.3,496.6 L1003.3,502.6 L1011.0,505.0 L1018.8,507.0 L1025.5,508.1 L1031.3,507.2 L1038.3,505.5 L1045.3,503.4 L1063.5,497.4 L1069.3,495.7 L1074.3,494.6 L1079.3,493.7 L1084.3,493.2 L1096.8,493.1 L1100.8,493.3 L1104.8,493.8 L1113.5,495.7 L1122.5,498.4 L1140.3,504.7 L1147.5,507.0 L1155.3,509.1 L1162.3,510.3 L1168.8,509.4 L1176.5,507.7 L1202.8,500.2 L1213.8,497.6 L1219.8,496.6 L1224.8,496.1 L1238.3,496.0 L1242.3,496.2 L1246.3,496.7 L1251.3,497.6 L1256.0,498.8 L1265.3,501.6 L1284.0,508.3 L1291.3,510.7 L1299.3,512.9 L1307.0,514.3 L1313.5,513.1 L1320.5,511.2 L1327.5,509.0 L1345.8,502.6 L1355.8,499.7 L1360.8,498.8 L1365.8,498.2 L1379.3,498.0 L1383.3,498.2 L1387.3,498.7 L1391.3,499.5 L1396.3,500.7 L1405.3,503.5 L1423.3,510.0 L1431.3,512.6 L1439.3,514.8 L1446.0,516.0 L1451.8,515.1 L1458.8,513.4 L1465.8,511.4 L1483.8,505.7 L1489.8,504.0 L1494.5,502.9 L1499.5,502.1 L1503.8,501.6 L1517.3,501.5 L1521.3,501.7 L1526.3,502.2 L1531.3,503.1 L1536.3,504.2 L1547.0,507.2 L1567.3,513.8 L1576.3,516.5 L1585.3,518.6 L1593.0,519.8 L1598.8,519.0 L1605.5,517.5 L1629.5,510.7 L1639.5,508.4 L1644.5,507.6 L1649.3,507.2 L1661.8,507.1 L1665.8,507.3 L1669.8,507.8 L1677.8,509.3 L1686.8,511.8 L1704.8,517.7 L1711.8,519.8 L1718.8,521.5 L1725.8,522.7 L1732.0,521.8 L1739.3,520.4 L1765.8,513.6 L1776.8,511.3 L1781.8,510.5 L1786.8,510.1 L1800.3,510.0 L1808.0,510.6 L1816.3,512.1 L1825.3,514.5 L1842.3,519.7 L1850.0,521.9 L1857.3,523.6 L1864.0,524.6 L1867.8,523.9 L1871.8,522.7 L1875.8,521.2 L1880.5,519.0 L1888.8,514.6 L1907.5,503.5 L1916.5,498.9 L1920.8,497.2 L1924.5,496.0 L1927.8,495.2 L1931.5,494.7 L1943.3,494.5 L1946.3,494.7 L1951.3,495.6 L1956.3,497.3 L1961.3,499.6 L1967.3,502.9 L1986.3,515.0 L1993.3,519.1 L1997.3,521.1 L2001.3,522.8 L2005.3,524.0 L2008.0,524.6 L2011.8,523.7 L2015.8,522.2 L2019.8,520.3 L2024.5,517.6 L2032.5,512.4 L2050.6,499.4 L2055.3,496.2 L2059.3,493.9 L2063.1,492.0 L2066.3,490.6 L2070.1,489.3 L2073.3,488.5 L2077.3,488.1 L2088.6,488.2 L2092.8,488.7 L2097.6,489.9 L2102.6,491.7 L2108.3,494.3 L2126.3,504.0 L2133.3,507.4 L2139.6,509.8 L2145.6,511.3 L2149.8,510.6 L2153.8,509.6 L2162.8,506.8 L2171.8,503.2 L2195.8,492.8 L2202.8,490.2 L2208.6,488.4 L2214.8,486.9 L2220.8,486.0 L2224.8,485.8 L2235.3,485.8 L2238.3,486.1 L2242.3,486.8 L2245.3,487.7 L2249.3,489.1 L2257.3,492.8 L2271.3,500.4 L2277.3,503.4 L2283.3,505.9 L2289.3,507.7 L2292.3,508.3 L2310.6,507.1 L2325.3,507.1 L2329.1,507.4 L2332.3,508.0 L2336.3,509.0 L2340.3,510.3 L2345.3,512.5 L2350.1,514.9 L2355.3,518.1 L2360.1,521.4 L2365.3,525.3 L2370.3,529.5 L2376.1,534.6 L2382.3,540.5 L2382.3,551.5 L2373.8,551.5 L2367.6,545.6 L2361.8,540.5 L2355.8,535.5 L2350.8,531.8 L2345.8,528.5 L2340.8,525.5 L2335.8,523.0 L2330.8,521.0 L2324.6,519.1 L2318.1,518.1 L2301.1,519.2 L2294.3,519.5 L2285.8,519.5 L2280.6,518.7 L2274.8,516.9 L2268.8,514.4 L2262.8,511.4 L2248.8,503.8 L2241.8,500.6 L2235.6,498.3 L2232.8,497.6 L2229.6,497.0 L2225.3,497.6 L2220.3,498.6 L2215.3,499.9 L2210.3,501.6 L2200.3,505.5 L2178.1,515.2 L2167.3,519.2 L2162.3,520.6 L2158.1,521.6 L2153.3,522.4 L2149.3,522.8 L2140.8,522.8 L2138.8,522.6 L2134.8,521.9 L2130.1,520.5 L2125.8,518.8 L2120.8,516.5 L2102.8,506.8 L2095.1,503.1 L2091.1,501.6 L2087.1,500.3 L2083.1,499.5 L2081.8,499.5 L2077.8,500.5 L2073.8,502.0 L2069.8,503.8 L2065.8,506.0 L2057.8,511.2 L2038.0,525.4 L2033.0,528.6 L2029.0,530.9 L2024.3,533.2 L2020.3,534.7 L2016.3,535.6 L2012.3,536.1 L2003.8,536.1 L2000.8,535.8 L1995.8,534.8 L1990.8,533.0 L1985.8,530.6 L1980.8,527.9 L1961.8,515.7 L1953.8,511.1 L1949.8,509.1 L1945.8,507.6 L1941.8,506.4 L1938.8,505.8 L1935.3,506.4 L1931.3,507.5 L1927.3,509.0 L1922.3,511.2 L1914.3,515.5 L1893.3,527.8 L1887.3,530.9 L1882.3,533.0 L1877.3,534.6 L1872.3,535.7 L1869.3,536.0 L1860.8,536.0 L1853.8,535.4 L1845.8,534.0 L1836.8,531.6 L1818.8,526.1 L1810.8,523.9 L1802.5,522.1 L1794.8,521.1 L1787.3,521.9 L1779.3,523.4 L1771.3,525.3 L1751.5,530.5 L1740.8,532.8 L1734.8,533.6 L1729.8,534.0 L1719.3,533.9 L1712.3,532.9 L1704.3,531.1 L1696.3,528.7 L1678.3,522.8 L1670.3,520.6 L1663.3,519.1 L1656.5,518.3 L1650.0,519.0 L1642.8,520.5 L1635.0,522.5 L1617.0,527.7 L1607.3,530.0 L1602.3,530.8 L1598.0,531.2 L1587.8,531.1 L1583.5,530.7 L1578.8,530.0 L1568.8,527.7 L1559.8,525.1 L1538.5,518.2 L1528.5,515.4 L1519.8,513.5 L1512.3,512.7 L1505.3,513.5 L1497.3,515.3 L1489.3,517.6 L1471.3,523.3 L1461.3,525.9 L1456.3,526.8 L1451.3,527.3 L1441.5,527.4 L1434.8,526.6 L1426.8,524.8 L1417.8,522.0 L1398.8,515.1 L1390.8,512.5 L1381.8,510.3 L1374.0,509.2 L1366.3,510.3 L1358.3,512.3 L1351.0,514.6 L1333.3,520.9 L1325.3,523.3 L1318.3,524.9 L1311.3,525.7 L1300.8,525.6 L1295.8,524.9 L1290.5,523.8 L1285.5,522.5 L1279.8,520.8 L1258.5,513.2 L1249.8,510.4 L1240.8,508.2 L1236.8,507.6 L1232.8,507.2 L1225.3,508.0 L1217.0,509.7 L1209.0,511.8 L1188.3,517.8 L1178.3,520.2 L1173.3,521.0 L1168.3,521.6 L1157.8,521.7 L1150.8,520.9 L1143.0,519.2 L1134.0,516.4 L1116.0,510.1 L1108.0,507.5 L1099.3,505.4 L1091.5,504.3 L1084.8,505.2 L1076.8,507.0 L1069.0,509.3 L1051.8,515.0 L1043.8,517.2 L1036.8,518.7 L1029.8,519.5 L1019.3,519.4 L1014.5,518.8 L1009.3,517.8 L998.5,514.8 L977.8,507.9 L969.8,505.5 L961.0,503.5 L953.3,502.5 L945.8,503.2 L936.8,504.9 L928.8,506.8 L911.0,511.5 L902.0,513.6 L894.3,514.9 L887.3,515.5 L877.5,515.4 L872.8,515.0 L867.5,514.1 L856.8,511.6 L837.8,506.1 L829.8,504.0 L821.5,502.3 L813.8,501.4 L806.3,502.1 L797.3,503.6 L788.5,505.4 L767.8,510.3 L757.0,512.3 L751.8,513.0 L746.8,513.4 L736.5,513.5 L729.5,512.9 L721.5,511.7 L712.5,509.8 L692.5,504.9 L683.8,502.9 L674.8,501.4 L667.0,500.6 L660.3,501.4 L652.3,503.0 L627.3,509.7 L618.0,511.7 L613.3,512.5 L608.3,512.9 L598.8,513.0 L592.8,512.4 L585.8,511.1 L577.8,509.0 L561.0,503.9 L554.0,502.0 L546.8,500.5 L539.8,499.6 L531.5,500.4 L522.5,501.9 L513.5,503.9 L492.6,509.0 L481.6,511.1 L475.6,512.0 L470.6,512.4 L460.1,512.5 L454.1,511.9 L447.1,510.6 L439.1,508.5 L421.3,503.0 L414.1,501.0 L406.3,499.3 L399.1,498.4 L391.8,499.2 L382.8,500.8 L374.1,502.8 L353.1,508.2 L342.3,510.5 L337.1,511.2 L332.1,511.7 L321.6,511.8 L315.6,511.1 L309.6,510.0 L302.8,508.4 L296.8,506.5 L289.8,504.0 L283.1,501.1 L276.1,497.7 L269.1,494.0 Z" fill="#008000" stroke="#008000" stroke-width="3.0" stroke-linejoin="round"/><path d="M269.1,489.5 L277.6,489.5 L284.3,498.0 L290.3,505.0 L296.3,511.3 L302.3,516.7 L308.1,521.1 L313.3,524.3 L319.1,526.9 L324.3,528.4 L328.3,527.6 L333.1,526.3 L352.1,519.9 L356.8,518.8 L360.8,518.1 L364.6,517.9 L376.3,518.0 L382.3,518.4 L395.3,519.7 L396.8,519.5 L400.8,518.6 L405.8,517.1 L422.6,510.8 L428.6,508.9 L434.8,507.4 L439.8,506.8 L454.3,506.8 L460.3,507.2 L466.3,507.9 L478.3,509.9 L506.3,515.7 L514.0,516.9 L520.5,517.7 L526.5,516.4 L532.5,514.5 L538.5,512.2 L554.5,505.5 L562.3,502.7 L569.5,500.9 L573.3,500.3 L576.5,500.1 L586.8,500.1 L590.8,500.3 L596.0,501.1 L601.8,502.3 L606.8,503.8 L612.8,505.9 L634.8,514.6 L643.5,517.8 L652.5,520.3 L656.5,521.0 L660.0,521.5 L663.0,520.6 L666.8,518.9 L670.8,516.3 L674.8,513.1 L678.5,509.6 L682.5,505.5 L696.3,490.4 L701.3,485.1 L706.3,480.4 L711.3,476.5 L714.0,474.8 L716.3,473.6 L719.0,472.5 L721.0,472.0 L724.0,471.7 L733.5,471.7 L737.5,472.3 L741.5,473.6 L745.5,475.6 L750.5,478.9 L755.3,482.7 L760.3,487.2 L780.0,507.0 L788.0,514.3 L792.8,518.0 L796.8,520.5 L800.8,522.5 L804.8,523.9 L806.0,524.1 L809.3,523.5 L813.3,522.4 L817.0,521.1 L824.0,518.2 L841.0,510.1 L846.0,508.1 L850.3,506.7 L854.3,505.7 L858.3,505.1 L870.8,505.0 L874.8,505.3 L879.5,505.9 L883.8,506.8 L888.8,508.2 L899.5,511.9 L919.5,520.2 L928.5,523.6 L937.5,526.3 L941.8,527.3 L946.3,527.9 L950.0,527.0 L954.0,525.4 L958.0,523.4 L962.0,520.9 L970.0,514.9 L989.0,499.4 L995.0,495.2 L1000.0,492.2 L1005.0,490.0 L1010.0,488.6 L1013.8,488.3 L1023.5,488.3 L1027.5,489.0 L1031.5,490.5 L1035.5,492.7 L1040.3,496.0 L1044.5,499.6 L1049.5,504.4 L1069.3,525.5 L1077.3,533.2 L1082.3,537.2 L1086.3,539.8 L1090.3,541.8 L1093.5,542.8 L1096.8,541.3 L1100.8,538.2 L1104.8,534.1 L1108.8,529.2 L1112.8,523.5 L1116.5,517.7 L1129.8,495.9 L1135.5,486.9 L1140.8,479.6 L1145.8,473.8 L1148.5,471.2 L1150.8,469.5 L1152.8,468.3 L1155.5,467.2 L1158.5,466.7 L1168.0,466.7 L1170.3,467.2 L1172.3,467.9 L1174.3,469.1 L1176.0,470.3 L1180.3,474.3 L1184.3,479.1 L1188.3,484.8 L1193.3,492.8 L1212.3,527.1 L1216.3,533.8 L1220.0,539.7 L1224.3,545.5 L1228.3,550.1 L1232.3,553.5 L1235.5,555.4 L1236.8,554.6 L1238.8,552.9 L1240.8,550.7 L1242.8,548.1 L1246.8,541.5 L1250.8,533.6 L1254.8,524.5 L1258.8,514.5 L1272.8,476.8 L1278.8,461.4 L1284.8,447.8 L1289.5,439.0 L1291.8,435.5 L1294.5,432.0 L1296.8,429.8 L1298.8,428.4 L1300.5,427.6 L1301.8,427.3 L1312.0,427.3 L1314.3,428.1 L1316.3,429.6 L1318.3,431.7 L1320.3,434.5 L1322.3,437.9 L1324.3,441.8 L1326.3,446.2 L1329.0,453.1 L1333.3,465.1 L1338.3,481.2 L1344.0,501.5 L1358.3,553.6 L1363.0,569.7 L1367.0,582.1 L1372.0,595.6 L1376.0,604.5 L1378.0,608.1 L1380.0,611.2 L1382.0,613.6 L1383.3,614.8 L1383.5,614.8 L1384.5,613.6 L1386.5,610.6 L1388.5,606.7 L1390.5,602.0 L1394.5,590.3 L1398.5,576.2 L1402.3,561.1 L1406.3,543.5 L1420.3,477.3 L1425.3,454.7 L1428.3,442.2 L1431.3,430.6 L1433.3,423.6 L1436.0,414.9 L1438.3,408.8 L1441.0,402.6 L1443.3,398.7 L1445.3,396.2 L1447.0,394.8 L1448.3,394.3 L1457.8,394.2 L1459.5,394.8 L1461.5,396.5 L1463.5,399.2 L1465.5,403.0 L1467.5,407.8 L1469.5,413.4 L1473.5,427.0 L1477.5,443.3 L1482.5,466.5 L1487.5,491.9 L1500.5,560.4 L1504.5,579.9 L1507.5,593.5 L1511.5,609.8 L1515.5,623.4 L1517.5,629.0 L1519.5,633.8 L1521.5,637.6 L1523.0,639.7 L1525.0,636.4 L1526.8,632.4 L1528.8,626.9 L1530.8,620.4 L1534.8,604.5 L1538.8,585.4 L1542.8,563.7 L1546.8,540.0 L1561.0,449.1 L1566.8,414.1 L1572.8,381.4 L1575.0,370.6 L1577.8,358.7 L1580.0,350.3 L1582.8,341.5 L1585.0,335.9 L1586.8,332.5 L1587.8,331.0 L1589.8,328.9 L1591.0,328.3 L1591.8,328.2 L1600.5,328.2 L1601.3,328.4 L1602.3,328.9 L1603.3,329.9 L1604.3,331.2 L1606.3,334.8 L1608.3,339.8 L1610.3,345.9 L1612.3,353.3 L1616.3,371.0 L1620.3,392.2 L1625.3,422.6 L1630.3,456.0 L1644.0,552.0 L1648.0,578.1 L1652.0,602.1 L1656.0,623.2 L1660.0,640.9 L1662.0,648.2 L1664.0,654.4 L1666.0,659.3 L1667.5,662.1 L1669.3,658.6 L1670.5,655.3 L1672.3,649.9 L1674.3,642.3 L1678.3,623.8 L1682.3,601.1 L1686.0,576.9 L1690.0,548.7 L1704.0,442.4 L1709.0,406.2 L1714.8,369.1 L1717.0,356.4 L1719.8,342.5 L1722.0,332.7 L1724.8,322.8 L1726.8,317.2 L1728.8,313.1 L1730.5,310.9 L1731.8,310.0 L1732.8,309.8 L1741.3,309.8 L1742.3,310.1 L1743.3,310.7 L1744.3,311.9 L1745.3,313.4 L1747.3,317.7 L1749.0,322.7 L1751.3,330.7 L1753.3,339.2 L1757.3,359.7 L1761.3,384.2 L1766.3,419.2 L1771.3,457.5 L1784.3,561.5 L1788.3,591.5 L1792.3,619.1 L1796.3,643.5 L1800.3,663.9 L1802.3,672.3 L1804.3,679.5 L1806.3,685.2 L1807.8,688.4 L1808.0,688.5 L1809.8,684.5 L1811.8,678.4 L1813.8,670.8 L1815.8,661.7 L1819.8,639.8 L1824.8,606.3 L1828.8,575.5 L1833.5,535.5 L1847.8,406.4 L1853.5,356.4 L1858.5,316.6 L1863.5,281.9 L1866.5,264.1 L1868.5,253.8 L1870.5,244.8 L1872.5,237.2 L1874.5,231.2 L1876.5,226.7 L1877.5,225.1 L1878.5,223.9 L1879.5,223.2 L1880.5,223.0 L1889.0,223.0 L1890.0,223.3 L1891.0,224.1 L1892.8,226.8 L1895.0,232.4 L1897.0,239.4 L1899.8,251.7 L1902.0,264.0 L1904.0,276.3 L1906.8,295.3 L1909.8,318.4 L1912.8,343.5 L1917.8,388.5 L1931.5,518.4 L1935.5,553.6 L1939.5,585.7 L1943.5,613.7 L1947.3,635.4 L1950.5,649.9 L1952.3,655.9 L1953.3,658.6 L1954.0,660.1 L1955.8,655.5 L1957.8,648.5 L1959.8,639.7 L1961.8,629.4 L1965.8,604.3 L1969.8,574.3 L1973.8,540.3 L1977.8,503.3 L1991.8,364.0 L1997.8,306.9 L2003.8,256.1 L2006.5,235.8 L2008.8,221.0 L2011.5,205.2 L2013.8,194.3 L2016.5,184.1 L2018.8,178.2 L2020.5,175.4 L2021.8,174.3 L2022.8,174.0 L2031.3,174.0 L2032.3,174.3 L2033.3,175.3 L2034.3,176.7 L2035.3,178.8 L2037.3,184.4 L2039.0,191.0 L2041.3,201.4 L2043.0,211.1 L2047.0,237.6 L2051.3,271.5 L2055.3,307.5 L2060.3,356.5 L2073.3,489.7 L2077.3,527.9 L2081.3,563.0 L2085.3,593.7 L2089.3,619.0 L2091.3,629.2 L2093.1,636.7 L2094.3,641.2 L2096.1,646.0 L2097.8,641.2 L2099.8,633.9 L2101.8,624.7 L2103.8,613.9 L2107.8,587.8 L2111.8,556.6 L2115.8,521.3 L2119.8,482.9 L2133.6,341.8 L2138.8,290.3 L2144.8,237.5 L2147.6,216.5 L2149.8,201.0 L2152.6,184.5 L2154.8,173.2 L2157.6,162.5 L2159.8,156.4 L2161.6,153.4 L2162.8,152.3 L2163.8,152.0 L2172.8,152.1 L2173.8,152.7 L2174.8,153.6 L2177.1,157.0 L2179.3,161.6 L2181.8,168.0 L2184.1,174.9 L2186.1,182.3 L2187.6,189.5 L2188.6,195.9 L2191.8,227.1 L2196.8,265.8 L2199.6,289.1 L2203.3,323.7 L2205.8,348.9 L2212.8,436.4 L2216.6,491.0 L2222.3,550.3 L2226.1,603.9 L2228.3,627.2 L2231.6,651.7 L2235.6,675.9 L2240.3,700.5 L2249.3,743.7 L2252.6,761.3 L2255.3,780.4 L2257.6,802.2 L2260.1,836.2 L2262.1,873.1 L2263.6,916.1 L2265.3,984.4 L2266.1,1025.1 L2266.6,1074.1 L2267.3,1229.5 L2267.3,1240.5 L2258.8,1240.5 L2257.8,1056.2 L2257.3,1020.3 L2256.6,984.6 L2254.8,918.6 L2253.6,884.1 L2251.6,847.2 L2248.8,810.4 L2246.6,789.4 L2243.8,770.8 L2240.6,753.4 L2232.1,712.8 L2227.6,689.6 L2223.6,666.0 L2220.6,644.4 L2218.8,628.9 L2217.6,614.9 L2213.8,561.3 L2208.1,502.0 L2204.3,447.4 L2198.3,371.2 L2196.1,346.9 L2192.3,311.4 L2188.8,280.9 L2183.3,238.1 L2180.6,211.0 L2179.3,201.9 L2177.3,192.2 L2174.8,183.5 L2171.3,173.8 L2168.3,167.5 L2167.1,170.5 L2165.1,177.0 L2163.3,184.2 L2161.1,195.5 L2157.1,220.4 L2152.3,256.7 L2148.3,292.0 L2144.3,330.3 L2130.3,473.9 L2125.3,523.0 L2120.3,567.6 L2116.3,598.8 L2112.3,624.9 L2110.3,635.7 L2108.1,645.9 L2106.3,652.2 L2104.3,657.6 L2103.3,659.6 L2102.3,661.0 L2101.3,661.9 L2100.3,662.2 L2091.8,662.2 L2090.8,661.9 L2089.6,660.7 L2087.8,657.7 L2085.8,652.2 L2083.6,643.5 L2080.8,630.0 L2078.8,618.1 L2076.6,602.9 L2073.8,582.1 L2068.6,536.6 L2062.8,480.7 L2049.6,345.1 L2045.8,309.2 L2041.8,274.0 L2037.8,243.2 L2033.8,217.8 L2031.8,207.5 L2029.8,198.9 L2027.8,192.3 L2027.0,190.4 L2026.8,190.3 L2025.3,194.3 L2023.3,201.2 L2020.3,214.8 L2017.0,233.5 L2013.3,259.5 L2009.3,291.5 L2004.3,336.4 L1987.0,507.1 L1983.0,544.6 L1979.0,579.2 L1974.3,615.3 L1970.3,640.4 L1968.3,650.7 L1966.3,659.5 L1964.3,666.5 L1963.0,670.0 L1961.3,673.6 L1960.3,674.9 L1959.0,675.9 L1958.3,676.1 L1949.8,676.1 L1948.8,675.8 L1947.8,675.1 L1946.8,673.8 L1945.8,671.9 L1944.0,667.6 L1942.8,663.6 L1940.0,652.4 L1937.8,641.1 L1935.0,624.7 L1932.8,609.5 L1930.0,589.0 L1927.0,564.6 L1921.0,511.0 L1907.0,378.9 L1903.3,345.9 L1899.3,313.8 L1895.3,285.7 L1891.5,264.0 L1889.5,254.5 L1887.5,246.7 L1885.5,240.6 L1884.8,238.8 L1884.5,238.7 L1883.0,242.2 L1881.0,248.2 L1879.0,255.8 L1877.0,264.8 L1873.0,286.7 L1868.0,320.2 L1864.0,350.9 L1859.3,390.9 L1845.0,519.9 L1839.3,570.0 L1834.0,611.7 L1829.3,644.6 L1827.0,658.2 L1824.3,672.7 L1822.3,681.8 L1820.3,689.4 L1818.3,695.5 L1816.3,700.0 L1815.3,701.6 L1814.3,702.8 L1813.3,703.5 L1812.3,703.8 L1803.8,703.8 L1802.8,703.6 L1801.5,702.7 L1799.8,700.4 L1797.5,695.5 L1794.8,687.1 L1792.5,678.2 L1789.8,665.2 L1787.5,653.1 L1784.8,636.5 L1779.5,600.6 L1773.8,556.8 L1759.8,445.2 L1755.8,415.7 L1752.5,393.6 L1748.5,369.3 L1744.5,349.0 L1742.8,341.7 L1740.8,334.5 L1738.8,328.7 L1737.0,324.9 L1736.3,326.0 L1734.3,330.8 L1732.3,337.1 L1730.3,344.7 L1726.3,363.4 L1722.3,386.1 L1718.5,410.4 L1714.5,438.6 L1701.5,537.4 L1696.5,574.1 L1691.8,605.9 L1687.8,629.4 L1683.8,649.1 L1681.8,657.3 L1679.8,664.1 L1677.8,669.6 L1675.8,673.6 L1674.0,675.8 L1673.0,676.5 L1672.0,676.8 L1663.5,676.8 L1662.5,676.6 L1661.3,675.9 L1659.5,673.9 L1657.3,669.7 L1654.5,662.4 L1652.3,654.8 L1649.5,643.6 L1647.5,634.2 L1644.5,618.6 L1638.8,584.3 L1633.5,549.3 L1619.5,451.7 L1615.5,425.7 L1611.5,401.8 L1607.8,382.0 L1603.8,364.3 L1601.8,356.9 L1599.8,350.8 L1597.8,345.8 L1596.0,342.6 L1595.3,343.5 L1594.3,345.3 L1592.3,349.9 L1590.3,355.5 L1588.5,361.3 L1586.3,369.7 L1584.3,378.2 L1580.3,397.5 L1576.3,419.3 L1572.3,443.0 L1558.3,532.3 L1553.3,563.0 L1548.5,589.8 L1544.3,611.0 L1541.5,622.9 L1539.5,630.5 L1537.5,637.2 L1535.5,642.8 L1533.5,647.4 L1531.5,650.7 L1529.5,652.8 L1528.5,653.4 L1527.5,653.6 L1518.0,653.5 L1516.8,652.9 L1515.0,651.3 L1513.0,648.6 L1510.8,644.2 L1508.0,637.3 L1505.8,630.5 L1503.0,620.8 L1501.0,613.0 L1498.0,600.1 L1495.0,586.2 L1490.0,561.1 L1476.0,487.4 L1472.0,467.9 L1468.0,450.0 L1464.0,434.3 L1460.0,421.5 L1458.0,416.3 L1456.3,412.5 L1455.0,410.2 L1453.3,407.7 L1451.5,410.0 L1449.8,413.1 L1447.8,417.3 L1445.8,422.4 L1441.8,434.6 L1437.8,449.2 L1434.8,461.5 L1430.8,479.1 L1417.8,540.6 L1412.8,563.4 L1408.0,583.3 L1404.0,598.0 L1400.0,610.3 L1398.0,615.4 L1395.8,620.2 L1394.0,623.2 L1392.0,625.8 L1390.0,627.4 L1389.0,627.8 L1388.0,627.9 L1378.5,627.8 L1377.5,627.5 L1375.5,626.4 L1373.5,624.6 L1370.5,620.7 L1367.5,615.5 L1364.5,609.0 L1359.5,596.0 L1353.5,577.4 L1347.5,556.5 L1331.8,499.1 L1327.5,484.8 L1323.5,472.4 L1318.8,459.6 L1314.8,450.7 L1312.8,447.1 L1310.8,444.0 L1308.8,441.6 L1306.8,439.7 L1305.3,440.8 L1303.3,442.7 L1301.3,445.1 L1299.3,448.0 L1295.3,454.8 L1291.3,463.1 L1287.3,472.4 L1283.3,482.5 L1270.3,517.6 L1265.3,530.6 L1260.3,542.4 L1256.3,550.7 L1252.3,557.6 L1250.3,560.5 L1248.0,563.2 L1246.3,564.8 L1244.3,566.3 L1242.3,567.2 L1240.3,567.5 L1230.8,567.5 L1227.8,566.7 L1225.5,565.7 L1222.8,563.8 L1220.5,561.8 L1217.8,558.9 L1212.8,552.5 L1206.8,543.2 L1200.8,532.8 L1186.8,507.3 L1182.8,500.5 L1178.8,494.3 L1174.8,488.8 L1170.8,484.2 L1166.8,480.7 L1164.8,479.5 L1163.0,478.6 L1162.0,478.9 L1160.0,480.0 L1156.3,482.9 L1152.3,487.0 L1148.3,491.9 L1144.3,497.5 L1140.3,503.7 L1127.3,525.1 L1122.3,533.0 L1118.3,538.8 L1114.0,544.3 L1110.0,548.5 L1106.0,551.8 L1104.3,552.8 L1102.3,553.7 L1100.3,554.3 L1098.3,554.5 L1088.8,554.5 L1085.5,554.0 L1082.8,553.2 L1080.5,552.3 L1077.8,550.8 L1074.8,548.9 L1069.8,545.0 L1063.8,539.5 L1057.8,533.3 L1043.0,517.5 L1038.8,513.2 L1034.8,509.5 L1030.0,505.7 L1026.0,503.1 L1022.0,501.1 L1018.0,499.8 L1014.5,500.7 L1010.5,502.2 L1006.5,504.3 L1002.5,506.8 L994.5,512.8 L976.5,527.5 L971.5,531.2 L967.5,533.8 L963.5,536.0 L959.5,537.7 L955.5,538.8 L951.5,539.3 L943.0,539.3 L939.0,539.1 L933.0,538.2 L927.0,536.8 L921.0,534.9 L915.0,532.8 L893.0,523.7 L884.0,520.4 L879.0,518.8 L874.3,517.6 L870.0,516.8 L866.0,516.2 L860.5,517.2 L853.5,519.5 L846.8,522.3 L829.5,530.5 L824.5,532.5 L819.8,534.0 L814.8,535.1 L810.8,535.5 L800.3,535.5 L796.3,534.9 L792.3,533.5 L788.3,531.5 L784.3,529.0 L779.5,525.3 L771.5,518.0 L751.8,498.2 L747.0,493.9 L743.0,490.7 L739.0,487.9 L735.0,485.6 L732.0,484.2 L728.5,483.2 L725.5,484.3 L721.8,486.2 L717.8,489.0 L713.8,492.3 L706.8,499.2 L689.3,518.3 L685.3,522.3 L681.3,525.8 L677.3,528.7 L673.3,530.9 L669.5,532.3 L666.3,532.8 L653.0,532.6 L648.0,532.0 L642.0,530.8 L636.0,529.1 L630.0,527.0 L608.3,518.4 L599.3,515.1 L590.3,512.6 L586.3,511.8 L582.0,511.3 L576.0,512.3 L570.0,513.9 L562.8,516.6 L547.0,523.2 L540.8,525.6 L533.8,527.7 L527.0,529.0 L517.5,529.1 L511.6,528.7 L505.6,527.9 L494.6,526.1 L472.8,521.5 L463.8,519.8 L454.8,518.5 L447.1,517.8 L442.1,518.6 L436.3,520.1 L430.3,522.1 L414.3,528.1 L409.3,529.6 L405.1,530.5 L401.3,531.0 L391.8,531.0 L385.8,530.6 L372.6,529.3 L369.3,529.1 L365.3,529.8 L360.3,531.0 L342.8,536.9 L335.8,538.8 L332.1,539.5 L329.1,539.8 L318.6,539.7 L313.3,538.8 L310.6,537.9 L307.6,536.7 L301.8,533.6 L295.8,529.3 L289.8,524.2 L283.1,517.4 L276.1,509.4 L269.1,500.5 Z" fill="#000080" stroke="#000080" stroke-width="3.0" stroke-linejoin="round"/><rect x="274.0" y="82.0" width="1498.6" height="199.3" fill="#fff" stroke="#000" stroke-width="2"/><path d="M273.30,78.20 V283.30 M270.00,81.50 H1775.60" stroke="#000" stroke-width="6.6" fill="none"/><rect x="312.6" y="132.1" width="190.39999999999998" height="13" fill="#000000"/><text transform="translate(512.0,165.9) scale(1,1.03)" font-family="Liberation Serif, serif" font-size="65" fill="#000">Iteration 1</text><rect x="795.3" y="132.1" width="190.5" height="13" fill="#ff0000"/><text transform="translate(995.5,165.9) scale(1,1.03)" font-family="Liberation Serif, serif" font-size="65" fill="#000">Iteration 2</text><rect x="1277.3" y="132.1" width="190.9000000000001" height="13" fill="#0000ff"/><text transform="translate(1477.2,165.9) scale(1,1.03)" font-family="Liberation Serif, serif" font-size="65" fill="#000">Iteration 3</text><rect x="312.6" y="230.0" width="190.39999999999998" height="13" fill="#ff00ff"/><text transform="translate(512.0,264.0) scale(1,1.03)" font-family="Liberation Serif, serif" font-size="65" fill="#000">Iteration 4</text><rect x="795.3" y="230.0" width="190.5" height="13" fill="#008000"/><text transform="translate(995.5,264.0) scale(1,1.03)" font-family="Liberation Serif, serif" font-size="65" fill="#000">Iteration 5</text><rect x="1277.3" y="230.0" width="190.9000000000001" height="13" fill="#000080"/><text transform="translate(1477.2,264.0) scale(1,1.03)" font-family="Liberation Serif, serif" font-size="65" fill="#000">Iteration 6</text><text transform="translate(215.5,1038.00) scale(0.99,1.025)" font-family="Liberation Serif, serif" font-size="76" text-anchor="end">0</text><text transform="translate(215.5,850.62) scale(0.99,1.025)" font-family="Liberation Serif, serif" font-size="76" text-anchor="end">200</text><text transform="translate(215.5,663.24) scale(0.99,1.025)" font-family="Liberation Serif, serif" font-size="76" text-anchor="end">400</text><text transform="translate(215.5,475.86) scale(0.99,1.025)" font-family="Liberation Serif, serif" font-size="76" text-anchor="end">600</text><text transform="translate(215.5,288.48) scale(0.99,1.025)" font-family="Liberation Serif, serif" font-size="76" text-anchor="end">800</text><text transform="translate(215.5,101.10) scale(0.99,1.025)" font-family="Liberation Serif, serif" font-size="76" text-anchor="end">1000</text><text transform="translate(273.30,1135.3) scale(0.99,1.025)" font-family="Liberation Serif, serif" font-size="76" text-anchor="middle">0</text><text transform="translate(448.69,1135.3) scale(0.99,1.025)" font-family="Liberation Serif, serif" font-size="76" text-anchor="middle">2</text><text transform="translate(624.08,1135.3) scale(0.99,1.025)" font-family="Liberation Serif, serif" font-size="76" text-anchor="middle">4</text><text transform="translate(799.47,1135.3) scale(0.99,1.025)" font-family="Liberation Serif, serif" font-size="76" text-anchor="middle">6</text><text transform="translate(974.87,1135.3) scale(0.99,1.025)" font-family="Liberation Serif, serif" font-size="76" text-anchor="middle">8</text><text transform="translate(1150.26,1135.3) scale(0.99,1.025)" font-family="Liberation Serif, serif" font-size="76" text-anchor="middle">10</text><text transform="translate(1325.65,1135.3) scale(0.99,1.025)" font-family="Liberation Serif, serif" font-size="76" text-anchor="middle">12</text><text transform="translate(1501.04,1135.3) scale(0.99,1.025)" font-family="Liberation Serif, serif" font-size="76" text-anchor="middle">14</text><text transform="translate(1676.43,1135.3) scale(0.99,1.025)" font-family="Liberation Serif, serif" font-size="76" text-anchor="middle">16</text><text transform="translate(1851.82,1135.3) scale(0.99,1.025)" font-family="Liberation Serif, serif" font-size="76" text-anchor="middle">18</text><text transform="translate(2027.22,1135.3) scale(0.99,1.025)" font-family="Liberation Serif, serif" font-size="76" text-anchor="middle">20</text><text transform="translate(2202.61,1135.3) scale(0.99,1.025)" font-family="Liberation Serif, serif" font-size="76" text-anchor="middle">22</text><text transform="translate(2378.00,1135.3) scale(0.99,1.025)" font-family="Liberation Serif, serif" font-size="76" text-anchor="middle">24</text><text transform="translate(1192.8,1212.4) scale(1,1.025)" font-family="Liberation Serif, serif" font-size="76">Time [h]</text><text transform="translate(75.7,772.4) rotate(-90) scale(1,1.025)" font-family="Liberation Serif, serif" font-size="76">altitude [km]</text><path d="M2267.9,32.8 V1241.6" stroke="#000080" stroke-width="13" fill="none"/></svg>
</body></html>
